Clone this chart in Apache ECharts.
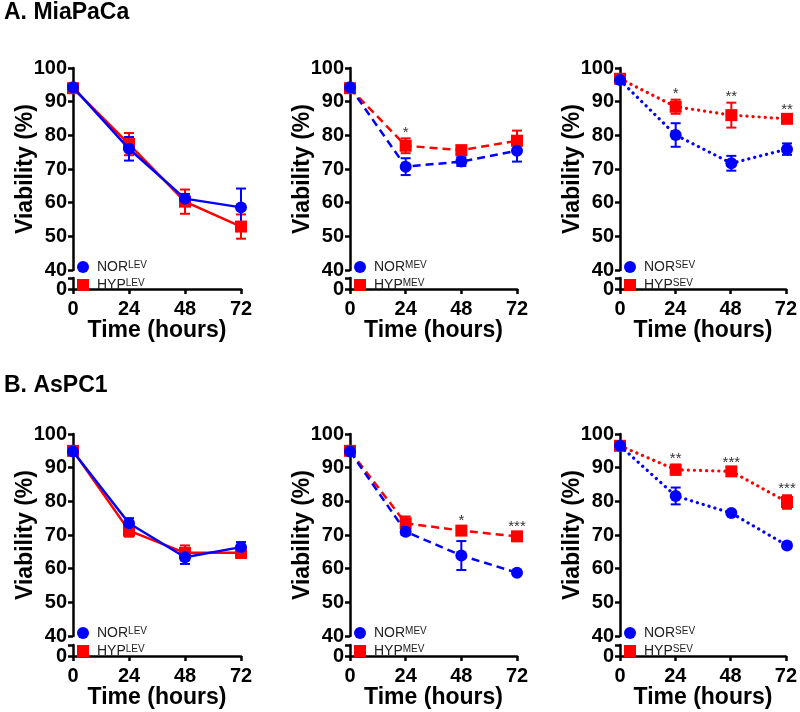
<!DOCTYPE html>
<html>
<head>
<meta charset="utf-8">
<script src="https://cdn.jsdelivr.net/npm/echarts@6/dist/echarts.min.js"></script>
<style>html,body{margin:0;padding:0;background:#fff;}#chart{width:800px;height:712px;}</style>
</head>
<body>
<div id="chart"></div>
<script>
// ---- Data ----
const times = [0, 24, 48, 72];
const xTicks = [0, 24, 48, 72];
const yTicks = [40, 50, 60, 70, 80, 90, 100];

// A. MiaPaCa
const A_norLEV = [94.3, 76.0, 61.2, 58.6];
const A_norLEV_err = [0.8, 3.5, 1.4, 5.6];
const A_hypLEV = [94.0, 77.4, 60.3, 52.9];
const A_hypLEV_err = [0.8, 3.3, 3.6, 3.6];
const A_norMEV = [94.3, 70.7, 72.2, 75.4];
const A_norMEV_err = [0.8, 2.5, 1.3, 3.2];
const A_hypMEV = [94.0, 76.9, 75.6, 78.4];
const A_hypMEV_err = [0.8, 2.2, 1.0, 3.0];
const A_norSEV = [96.4, 80.1, 71.7, 75.9];
const A_norSEV_err = [0.8, 3.5, 2.2, 1.7];
const A_hypSEV = [96.8, 88.5, 86.0, 84.9];
const A_hypSEV_err = [0.8, 2.1, 3.7, 1.0];
const A_starsLEV = ['', '', '', ''];
const A_starsMEV = ['', '*', '', ''];
const A_starsSEV = ['', '*', '**', '**'];

// B. AsPC1
const B_norLEV = [94.8, 73.5, 63.4, 66.4];
const B_norLEV_err = [0.8, 1.5, 2.0, 1.5];
const B_hypLEV = [95.0, 71.3, 64.7, 64.7];
const B_hypLEV_err = [0.8, 1.8, 2.2, 1.5];
const B_norMEV = [94.8, 71.0, 63.9, 58.8];
const B_norMEV_err = [0.8, 1.0, 4.3, 0.6];
const B_hypMEV = [95.0, 73.5, 71.3, 69.6];
const B_hypMEV_err = [0.8, 2.0, 1.0, 1.0];
const B_norSEV = [96.5, 81.6, 76.5, 66.9];
const B_norSEV_err = [0.8, 2.5, 0.6, 0.6];
const B_hypSEV = [96.5, 89.4, 88.9, 79.8];
const B_hypSEV_err = [0.8, 1.5, 0.8, 2.0];
const B_starsLEV = ['', '', '', ''];
const B_starsMEV = ['', '', '*', '***'];
const B_starsSEV = ['', '**', '***', '***'];

const panelTitles = ['A. MiaPaCa', 'B. AsPC1'];

// ---- Layout ----
const FONT = 'Liberation Sans, Arial, Helvetica, sans-serif';
const BLUE = '#0000ff', RED = '#ff0000';
const cols = [{left: 73, width: 168}, {left: 350, width: 167}, {left: 620, width: 167}];
const rows = [{top: 68, h: 202, lowTop: 278, lowH: 11}, {top: 434, h: 202, lowTop: 645, lowH: 11}];
const lineTypes = {
  LEV: {type: 'solid', width: 2.5, cap: 'butt'},
  MEV: {type: [8, 5], width: 2.5, cap: 'butt'},
  SEV: {type: [0.1, 6], width: 3.2, cap: 'round'}
};

const panels = [
  {r: 0, c: 0, tag: 'LEV', nor: A_norLEV, norE: A_norLEV_err, hyp: A_hypLEV, hypE: A_hypLEV_err, stars: A_starsLEV},
  {r: 0, c: 1, tag: 'MEV', nor: A_norMEV, norE: A_norMEV_err, hyp: A_hypMEV, hypE: A_hypMEV_err, stars: A_starsMEV},
  {r: 0, c: 2, tag: 'SEV', nor: A_norSEV, norE: A_norSEV_err, hyp: A_hypSEV, hypE: A_hypSEV_err, stars: A_starsSEV},
  {r: 1, c: 0, tag: 'LEV', nor: B_norLEV, norE: B_norLEV_err, hyp: B_hypLEV, hypE: B_hypLEV_err, stars: B_starsLEV},
  {r: 1, c: 1, tag: 'MEV', nor: B_norMEV, norE: B_norMEV_err, hyp: B_hypMEV, hypE: B_hypMEV_err, stars: B_starsMEV},
  {r: 1, c: 2, tag: 'SEV', nor: B_norSEV, norE: B_norSEV_err, hyp: B_hypSEV, hypE: B_hypSEV_err, stars: B_starsSEV}
];

const grid = [], xAxis = [], yAxis = [], series = [], legend = [];
const axisLineStyle = {color: '#000', width: 2.5};
const tickStyle = {show: true, length: 5, lineStyle: {color: '#000', width: 2.5}};
const labelStyle = {color: '#000', fontSize: 20, fontWeight: 'bold', fontFamily: FONT};

function errRenderer(color) {
  return function (params, api) {
    const x = api.value(0), lo = api.value(1), hi = api.value(2);
    const p1 = api.coord([x, hi]), p2 = api.coord([x, lo]);
    const w = 5;
    const style = {stroke: color, lineWidth: 2};
    return {type: 'group', children: [
      {type: 'line', shape: {x1: p1[0], y1: p1[1], x2: p2[0], y2: p2[1]}, style: style},
      {type: 'line', shape: {x1: p1[0] - w, y1: p1[1], x2: p1[0] + w, y2: p1[1]}, style: style},
      {type: 'line', shape: {x1: p2[0] - w, y1: p2[1], x2: p2[0] + w, y2: p2[1]}, style: style}
    ]};
  };
}

panels.forEach(function (p, k) {
  const col = cols[p.c], row = rows[p.r];
  const gu = grid.length, gl = gu + 1;
  grid.push({left: col.left, top: row.top, width: col.width, height: row.h, containLabel: false});
  grid.push({left: col.left, top: row.lowTop, width: col.width, height: row.lowH, containLabel: false});

  xAxis.push({type: 'value', gridIndex: gu, min: 0, max: 72, interval: 24, show: false});
  xAxis.push({
    type: 'value', gridIndex: gl, min: 0, max: 72, interval: 24,
    axisLine: {show: true, lineStyle: axisLineStyle},
    axisTick: tickStyle,
    axisLabel: Object.assign({margin: 10}, labelStyle),
    splitLine: {show: false},
    name: 'Time (hours)', nameLocation: 'middle', nameGap: 30, nameMoveOverlap: false,
    nameTextStyle: {color: '#000', fontSize: 23, fontWeight: 'bold', fontFamily: FONT}
  });
  yAxis.push({
    type: 'value', gridIndex: gu, min: 40, max: 100, interval: 10,
    axisLine: {show: true, lineStyle: axisLineStyle},
    axisTick: tickStyle,
    axisLabel: Object.assign({margin: 6}, labelStyle),
    splitLine: {show: false},
    name: 'Viability (%)', nameLocation: 'middle', nameGap: 36, nameMoveOverlap: false,
    nameTextStyle: {color: '#000', fontSize: 23, fontWeight: 'bold', fontFamily: FONT}
  });
  yAxis.push({
    type: 'value', gridIndex: gl, min: 0, max: 3, interval: 3,
    axisLine: {show: true, lineStyle: axisLineStyle},
    axisTick: tickStyle,
    axisLabel: Object.assign({margin: 6, formatter: function (v) { return v === 0 ? '0' : ''; }}, labelStyle),
    splitLine: {show: false}
  });

  const lt = lineTypes[p.tag];
  const norName = 'NOR ' + p.tag, hypName = 'HYP ' + p.tag;

  // lines (named, so the legend takes their colours)
  series.push({
    type: 'line', name: hypName, xAxisIndex: gu, yAxisIndex: gu, z: 4, clip: false,
    symbol: 'rect', symbolSize: 12, showAllSymbol: true,
    itemStyle: {color: RED},
    lineStyle: {color: RED, width: lt.width, type: lt.type, cap: lt.cap},
    data: times.map(function (t, i) { return [t, p.hyp[i]]; })
  });
  series.push({
    type: 'line', name: norName, xAxisIndex: gu, yAxisIndex: gu, z: 5, clip: false,
    symbol: 'circle', symbolSize: 12, showAllSymbol: true,
    itemStyle: {color: BLUE},
    lineStyle: {color: BLUE, width: lt.width, type: lt.type, cap: lt.cap},
    data: times.map(function (t, i) { return [t, p.nor[i]]; })
  });
  // error bars
  series.push({
    type: 'custom', xAxisIndex: gu, yAxisIndex: gu, z: 2, silent: true,
    itemStyle: {color: RED},
    renderItem: errRenderer(RED),
    data: times.map(function (t, i) { return [t, p.hyp[i] - p.hypE[i], p.hyp[i] + p.hypE[i]]; })
  });
  series.push({
    type: 'custom', xAxisIndex: gu, yAxisIndex: gu, z: 3, silent: true,
    itemStyle: {color: BLUE},
    renderItem: errRenderer(BLUE),
    data: times.map(function (t, i) { return [t, p.nor[i] - p.norE[i], p.nor[i] + p.norE[i]]; })
  });
  // significance stars
  const starData = [];
  const starText = [];
  times.forEach(function (t, i) {
    if (p.stars[i]) { starData.push([t, p.hyp[i] + p.hypE[i]]); starText.push(p.stars[i]); }
  });
  if (starData.length) {
    series.push({
      type: 'custom', xAxisIndex: gu, yAxisIndex: gu, z: 6, silent: true,
      renderItem: function (params, api) {
        const pt = api.coord([api.value(0), api.value(1)]);
        return {type: 'text', x: pt[0], y: pt[1] - 6, style: {
          text: starText[params.dataIndex], fill: '#333', fontSize: 15, fontFamily: FONT,
          align: 'center', verticalAlign: 'middle'
        }};
      },
      data: starData
    });
  }

  legend.push({
    orient: 'vertical', left: col.left + 4, top: row.top + row.h - 10,
    itemWidth: 12, itemHeight: 12, itemGap: 4, padding: 0,
    selectedMode: false,
    data: [{name: norName, icon: 'circle', itemStyle: {color: BLUE}},
           {name: hypName, icon: 'rect', itemStyle: {color: RED}}],
    formatter: function (name) {
      const parts = name.split(' ');
      return '{b|' + parts[0] + '}{s|' + parts[1] + '}';
    },
    textStyle: {
      color: '#222', fontFamily: FONT,
      rich: {
        b: {fontSize: 14, fontFamily: FONT, color: '#222', padding: [0, 0, 0, 3], lineHeight: 14},
        s: {fontSize: 10, fontFamily: FONT, color: '#222', verticalAlign: 'top', lineHeight: 10}
      }
    }
  });
});

const chart = echarts.init(document.getElementById('chart'), null, {renderer: 'canvas'});
chart.setOption({
  animation: false,
  backgroundColor: '#fff',
  title: [
    {text: panelTitles[0], left: 4, top: 1, padding: 0,
     textStyle: {color: '#000', fontSize: 23, fontWeight: 'bold', fontFamily: FONT}},
    {text: panelTitles[1], left: 4, top: 374, padding: 0,
     textStyle: {color: '#000', fontSize: 23, fontWeight: 'bold', fontFamily: FONT}}
  ],
  grid: grid,
  xAxis: xAxis,
  yAxis: yAxis,
  legend: legend,
  series: series
});
</script>
</body>
</html>
